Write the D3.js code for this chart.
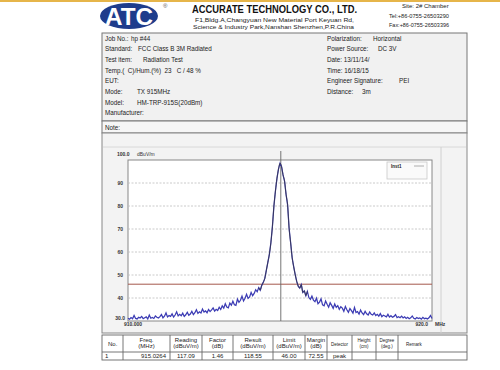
<!DOCTYPE html>
<html><head><meta charset="utf-8">
<script src="https://cdn.jsdelivr.net/npm/d3@7"></script>
<style>
html,body{margin:0;padding:0;background:#fff;}
svg{display:block;font-family:"Liberation Sans",Arial,sans-serif;}
</style></head>
<body><svg id="c" width="500" height="370"></svg>
<script>
// ---------- data ----------
const freqDomain = [910, 920];
const freqStep = 0.05;
const levels = [
 31.2,30.8,31.5,31.0,32.4,31.1,30.9,31.6,31.3,32.0,31.0,31.4,31.8,30.9,32.6,31.2,31.5,31.1,32.2,31.6,31.3,
 31.9,32.8,31.4,32.1,33.5,31.8,32.4,32.0,33.1,31.7,32.6,34.0,32.2,32.9,32.3,33.4,32.0,32.7,33.8,32.5,
 33.0,34.2,32.8,33.6,34.9,33.3,34.0,33.5,35.2,33.9,34.4,33.6,35.0,34.1,34.8,35.7,34.3,35.1,34.6,36.0,
 35.0,36.6,35.6,37.5,36.1,35.7,37.8,36.9,38.6,37.1,36.8,39.5,38.1,39.0,40.8,38.7,39.9,41.6,39.8,40.5,
 42.4,41.0,42.0,43.6,42.7,44.5,43.4,45.5,46.8,48.5,
 52.0,55.5,59.0,64.0,71.0,80.0,86.5,92.0,96.0,98.6,
 97.2,93.5,90.8,85.0,80.5,70.2,64.0,57.5,53.6,50.2,47.2,45.1,44.3,45.8,42.4,43.1,41.0,42.9,40.2,39.4,
 40.8,39.1,38.4,39.9,37.5,38.2,39.6,37.0,36.6,38.7,37.3,36.0,37.9,36.8,35.5,37.4,35.9,36.7,35.1,36.2,
 35.6,34.2,36.3,34.9,33.8,35.4,34.5,33.4,35.9,33.7,34.1,33.0,34.8,33.5,32.8,34.2,33.1,32.6,33.9,32.9,
 32.6,33.5,32.4,32.9,32.1,33.2,31.9,32.5,32.2,31.8,32.9,31.7,32.3,31.6,32.0,32.8,31.5,31.9,31.4,32.1,
 31.3,31.8,31.1,31.6,31.0,31.4,32.2,31.2,30.9,31.5,31.1,31.3,30.8,31.6,31.0,31.2,30.9,31.4,32.4,31.1
];
const levelDomain = [30, 100];
const gridLevels = [40, 50, 60, 70, 80, 90];
const limitLevel = 46;
const markerFreq = 915.0264;
const traceName = "Inst1";

const infoLeft = [
 ["Job No.:", "hp #44"],
 ["Standard:", "FCC Class B 3M Radiated"],
 ["Test item:", "Radiation Test"],
 ["Temp.(  C)/Hum.(%)  23   C / 48 %", ""],
 ["EUT:", ""],
 ["Mode:", "TX 915MHz"],
 ["Model:", "HM-TRP-915S(20dBm)"],
 ["Manufacturer:", ""]
];
const infoRight = [
 ["Polarization:", "Horizontal"],
 ["Power Source:", "DC 3V"],
 ["Date: 13/11/14/", ""],
 ["Time: 16/18/15", ""],
 ["Engineer Signature:", "PEI"],
 ["Distance:", "3m"]
];
const tableHeaders = [["No."],["Freq.","(MHz)"],["Reading","(dBuV/m)"],["Factor","(dB)"],["Result","(dBuV/m)"],["Limit","(dBuV/m)"],["Margin","(dB)"],["Detector"],["Height","(cm)"],["Degree","(deg.)"],["Remark"]];
const tableRow = ["1","915.0264","117.09","1.46","118.55","46.00","72.55","peak","","",""];
const tableCols = [102,123,170,202,233,273,305,327,352,376,398,467];

// ---------- drawing ----------
const svg = d3.select("#c");
const F = "Liberation Sans, Arial, sans-serif";

// top stripe
svg.append("rect").attr("x",0).attr("y",0).attr("width",500).attr("height",2).attr("fill","#e6b54a");

// logo
const logo = svg.append("g");
logo.append("ellipse").attr("cx",129).attr("cy",16).attr("rx",29).attr("ry",13).attr("fill","#1e3c8c");
logo.append("text").attr("x",129).attr("y",25).attr("text-anchor","middle")
  .attr("font-size",24).attr("font-weight","bold").attr("fill","#fff")
  .attr("textLength",48).attr("lengthAdjust","spacingAndGlyphs").text("ATC");
logo.append("text").attr("x",163).attr("y",8).attr("font-size",6).attr("fill","#555").text("®");

// header texts
svg.append("text").attr("x",192).attr("y",13).attr("font-size",10).attr("font-weight","bold").attr("fill","#111")
  .attr("textLength",165).attr("lengthAdjust","spacingAndGlyphs").text("ACCURATE TECHNOLOGY CO., LTD.");
svg.append("text").attr("x",195).attr("y",21.5).attr("font-size",6).attr("fill","#222")
  .attr("textLength",159).attr("lengthAdjust","spacingAndGlyphs").text("F1,Bldg.A,Changyuan New Material Port Keyuan Rd,");
svg.append("text").attr("x",193).attr("y",29).attr("font-size",6).attr("fill","#222")
  .attr("textLength",161).attr("lengthAdjust","spacingAndGlyphs").text("Science & Industry Park,Nanshan Shenzhen,P.R.China");
svg.append("text").attr("x",402).attr("y",8).attr("font-size",6).attr("fill","#222").text("Site:  2# Chamber");
svg.append("text").attr("x",389).attr("y",17.5).attr("font-size",6).attr("fill","#222")
  .attr("textLength",60).attr("lengthAdjust","spacingAndGlyphs").text("Tel:+86-0755-26503290");
svg.append("text").attr("x",389).attr("y",26.5).attr("font-size",6).attr("fill","#222")
  .attr("textLength",60).attr("lengthAdjust","spacingAndGlyphs").text("Fax:+86-0755-26503396");

// info box
svg.append("rect").attr("x",102).attr("y",33).attr("width",365).attr("height",88)
  .attr("fill","#f1f1f1").attr("stroke","#777").attr("stroke-width",1);
svg.append("rect").attr("x",102).attr("y",121).attr("width",365).attr("height",12)
  .attr("fill","#f6f6f6").attr("stroke","#777").attr("stroke-width",1);
svg.append("text").attr("x",105).attr("y",130).attr("font-size",6.3).attr("fill","#222").text("Note:");

const rowY = d3.scaleLinear().domain([0,1]).range([40.5,51.2]);
const valX = [131,138,143,0,0,137,137,0];
infoLeft.forEach((r,i)=>{
  svg.append("text").attr("x",105).attr("y",rowY(i)).attr("font-size",6.3).attr("fill","#222")
    .attr("xml:space","preserve").style("white-space","pre").text(r[0]);
  if (r[1]) svg.append("text").attr("x",valX[i]).attr("y",rowY(i)).attr("font-size",6.3).attr("fill","#222").text(r[1]);
});
const valXR = [373,378,0,0,399,362];
infoRight.forEach((r,i)=>{
  svg.append("text").attr("x",327).attr("y",rowY(i)).attr("font-size",6.3).attr("fill","#222").text(r[0]);
  if (r[1]) svg.append("text").attr("x",valXR[i]).attr("y",rowY(i)).attr("font-size",6.3).attr("fill","#222").text(r[1]);
});

// plot panel
svg.append("rect").attr("x",102).attr("y",133).attr("width",365).attr("height",200)
  .attr("fill","#f3f3f3").attr("stroke","#888").attr("stroke-width",1);
svg.append("line").attr("x1",103).attr("x2",466).attr("y1",147).attr("y2",147).attr("stroke","#d8d8d8");
svg.append("line").attr("x1",441).attr("x2",441).attr("y1",147).attr("y2",333).attr("stroke","#d0d0d0");

const x = d3.scaleLinear().domain(freqDomain).range([128,432]);
const y = d3.scaleLinear().domain(levelDomain).range([321,160]);

svg.append("rect").attr("x",x(910)).attr("y",y(100)).attr("width",x(920)-x(910)).attr("height",y(30)-y(100))
  .attr("fill","#fff").attr("stroke","#888").attr("stroke-width",1);

// grid
svg.append("g").selectAll("line").data(gridLevels).join("line")
  .attr("x1",x(910)).attr("x2",x(920)).attr("y1",d=>y(d)).attr("y2",d=>y(d))
  .attr("stroke","#bdbdbd").attr("stroke-width",0.8).attr("stroke-dasharray","2,1.5");

// y axis labels
const yAxis = d3.axisLeft(y).tickValues(gridLevels).tickSize(0).tickPadding(5).tickFormat(d3.format("d"));
const ya = svg.append("g").attr("transform",`translate(${x(910)},0)`).call(yAxis);
ya.select(".domain").remove();
ya.selectAll("text").attr("font-size",5).attr("font-weight","bold").attr("fill","#333").attr("font-family",F);
svg.append("text").attr("x",x(910)-11).attr("y",y(100)-4).attr("font-size",5).attr("font-weight","bold").attr("fill","#333").text("100.0");
svg.append("text").attr("x",x(910)+9).attr("y",y(100)-4).attr("font-size",5).attr("fill","#333").text("dBuV/m");
svg.append("text").attr("x",x(910)-3).attr("y",y(30)-1).attr("text-anchor","end").attr("font-size",5).attr("font-weight","bold").attr("fill","#333").text("30.0");

// x axis labels
svg.append("text").attr("x",x(910)-4).attr("y",y(30)+5).attr("font-size",5).attr("font-weight","bold").attr("fill","#333").text("910.000");
svg.append("text").attr("x",x(920)-4).attr("y",y(30)+5).attr("text-anchor","end").attr("font-size",5).attr("font-weight","bold").attr("fill","#333").text("920.0");
svg.append("text").attr("x",x(920)+3).attr("y",y(30)+5).attr("font-size",5).attr("font-weight","bold").attr("fill","#333").text("MHz");

// limit line
svg.append("line").attr("x1",x(910)).attr("x2",x(920)).attr("y1",y(limitLevel)).attr("y2",y(limitLevel))
  .attr("stroke","#a4584c").attr("stroke-width",1);

// marker line
svg.append("line").attr("x1",x(markerFreq)).attr("x2",x(markerFreq)).attr("y1",y(100)-9).attr("y2",y(30))
  .attr("stroke","#666").attr("stroke-width",0.9);

// trace
const pts = levels.map((v,i)=>({f: freqDomain[0] + i*freqStep, v}));
const line = d3.line().x(d=>x(d.f)).y(d=>y(d.v));
svg.append("path").datum(pts).attr("d",line).attr("fill","none").attr("stroke","#3c3cb4").attr("stroke-width",1.25);
svg.append("path").datum(pts.filter(d=>d.f>=914.3 && d.f<=915.9)).attr("d",d3.line().x(d=>x(d.f)).y(d=>y(d.v)).curve(d3.curveMonotoneX))
  .attr("fill","none").attr("stroke","#333").attr("stroke-width",0.7);

// legend
svg.append("rect").attr("x",387).attr("y",162).attr("width",40).attr("height",17).attr("fill","#fafafa").attr("stroke","#c8c8c8").attr("stroke-width",0.8);
svg.append("text").attr("x",391).attr("y",168).attr("font-size",4.5).attr("font-weight","bold").attr("fill","#222").text(traceName);
svg.append("line").attr("x1",414).attr("x2",424).attr("y1",166).attr("y2",166).attr("stroke","#999").attr("stroke-width",0.8);

// table
const tY0 = 335, tY1 = 352, tY2 = 360;
const tg = svg.append("g");
tg.append("rect").attr("x",102).attr("y",tY0).attr("width",365).attr("height",tY2-tY0).attr("fill","#fff").attr("stroke","#666").attr("stroke-width",0.9);
tg.append("line").attr("x1",102).attr("x2",467).attr("y1",tY1).attr("y2",tY1).attr("stroke","#666").attr("stroke-width",0.9);
tg.selectAll("line.c").data(tableCols.slice(1,-1)).join("line").attr("class","c")
  .attr("x1",d=>d).attr("x2",d=>d).attr("y1",tY0).attr("y2",tY2).attr("stroke","#666").attr("stroke-width",0.9);
tableHeaders.forEach((h,i)=>{
  const cx = i===0 ? tableCols[0]+6 : (i===10 ? tableCols[i]+8 : (tableCols[i]+tableCols[i+1])/2);
  const small = i>=7;
  const fs = small ? 4.5 : 6;
  h.forEach((t,j)=>{
    const yy = h.length===1 ? (tY0+tY1)/2+2 : tY0+6.5+j*6.5;
    tg.append("text").attr("x",cx).attr("y",yy).attr("text-anchor",(i===0||i===10)?"start":"middle")
      .attr("font-size",fs).attr("fill","#222").text(t);
  });
});
tableRow.forEach((t,i)=>{
  if(!t) return;
  const anchor = i===0 ? "start" : (i===1 ? "end" : "middle");
  const xx = i===0 ? tableCols[0]+3 : (i===1 ? tableCols[2]-4 : (tableCols[i]+tableCols[i+1])/2);
  tg.append("text").attr("x",xx).attr("y",tY2-1.8).attr("text-anchor",anchor).attr("font-size",6).attr("fill","#222").text(t);
});
</script></body></html>
